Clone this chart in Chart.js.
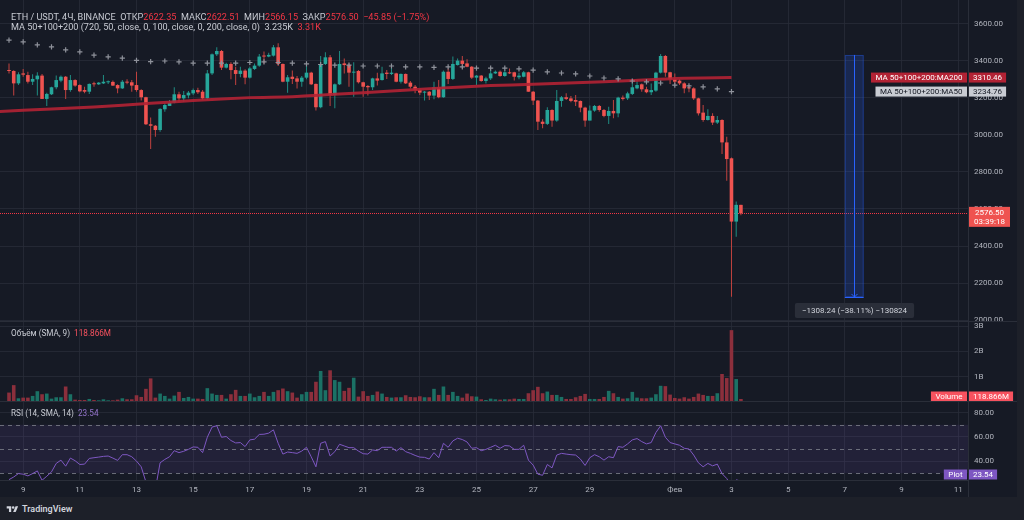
<!DOCTYPE html>
<html lang="ru">
<head>
<meta charset="utf-8">
<title>ETH / USDT, 4Ч, BINANCE</title>
<script src="https://cdn.jsdelivr.net/npm/chart.js@4.4.1/dist/chart.umd.min.js"></script>
<style>
html,body{margin:0;padding:0;}
body{width:1024px;height:520px;overflow:hidden;background:#1d2029;font-family:Roboto,"Noto Sans",Arial,sans-serif;position:relative;}
#panel{position:absolute;left:0;top:0;width:1017px;height:497px;background:#161a25;}
#panel canvas{position:absolute;left:0;}
.txt{position:absolute;white-space:pre;font-size:9.1px;line-height:10px;color:#c8cbd3;z-index:5;}
.sm{font-size:8.2px;}
.red{color:#f23645}
.vred{color:#f7525f}
.pur{color:#9575cd}
#logo{position:absolute;left:6px;top:503px;height:12px;display:flex;align-items:center;gap:3px;color:#d1d4dc;font-size:9px;font-weight:600;}
</style>
</head>
<body>
<div id="panel">
  <canvas id="cMain" width="1017" height="330" style="top:0px"></canvas>
  <canvas id="cVol" width="1017" height="88" style="top:314px"></canvas>
  <canvas id="cRsi" width="1017" height="103" style="top:394px"></canvas>
  <div class="txt" id="h1" style="left:11px;top:11.5px"></div>
  <div class="txt" id="h2" style="left:11px;top:22.3px"></div>
  <div class="txt sm" id="h3" style="left:11px;top:328.3px"></div>
  <div class="txt sm" id="h4" style="left:11px;top:408.3px"></div>
</div>
<div id="logo"><svg width="13" height="9" viewBox="0 0 36 28"><path d="M14 22H7V11H0V4h14v18z" fill="#d1d4dc"/><circle cx="20" cy="8" r="4" fill="#d1d4dc"/><path d="M28 22h-8l7.5-18h8L28 22z" fill="#d1d4dc"/></svg><span>TradingView</span></div>
<script>
// ---------- DATA (ETH/USDT 4h candles, Jan 8 12:00 .. Feb 3 08:00) ----------
const open = [
3351,3346,3279,3333,3324,3288,3301,3321,3195,3220,
3258,3294,3315,3243,3297,3270,3243,3234,3277,3274,
3279,3285,3287,3270,3252,3287,3285,3270,3243,3204,
3058,3050,3027,3139,3157,3175,3220,3198,3214,3225,
3243,3234,3198,3333,3436,3454,3364,3384,3351,3330,
3348,3310,3357,3375,3429,3424,3429,3474,3384,3288,
3315,3306,3288,3310,3337,3276,3150,3384,3420,3216,
3274,3387,3378,3337,3346,3285,3265,3258,3306,3297,
3337,3330,3333,3288,3330,3283,3261,3243,3229,3234,
3213,3258,3204,3342,3303,3378,3402,3387,3369,3310,
3321,3292,3306,3333,3342,3319,3339,3339,3312,3315,
3339,3234,3186,3072,3060,3135,3078,3184,3204,3198,
3189,3184,3148,3078,3132,3157,3135,3103,3130,3117,
3202,3198,3222,3252,3274,3247,3231,3240,3337,3427,
3339,3301,3294,3279,3258,3252,3198,3121,3081,3103,
3067,3081,2960,2874,2532,2622.35];
const high = [
3387,3350,3339,3357,3342,3328,3339,3330,3229,3261,
3321,3321,3319,3324,3301,3274,3261,3279,3288,3286,
3324,3294,3294,3274,3297,3301,3297,3342,3247,3207,
3094,3054,3144,3171,3189,3258,3234,3238,3238,3252,
3256,3243,3351,3441,3474,3459,3391,3393,3369,3369,
3355,3369,3387,3438,3451,3445,3487,3496,3387,3324,
3348,3319,3319,3387,3342,3279,3427,3447,3433,3279,
3454,3414,3387,3393,3351,3288,3270,3310,3337,3369,
3351,3369,3337,3333,3333,3292,3270,3252,3238,3238,
3288,3297,3348,3360,3424,3414,3427,3409,3373,3324,
3324,3315,3351,3348,3348,3351,3360,3342,3337,3346,
3342,3238,3189,3085,3150,3139,3243,3211,3225,3211,
3216,3186,3153,3159,3162,3162,3141,3153,3189,3207,
3213,3234,3297,3297,3279,3261,3279,3342,3438,3433,
3342,3333,3301,3285,3270,3258,3202,3162,3139,3117,
3103,3085,2991,2878,2640,2622.51];
const low = [
3333,3213,3270,3315,3279,3270,3213,3195,3157,3216,
3247,3285,3195,3234,3261,3231,3225,3222,3261,3270,
3276,3276,3265,3225,3249,3274,3234,3234,3186,3054,
2924,2991,3018,3126,3157,3171,3180,3180,3198,3216,
3222,3189,3189,3324,3427,3351,3360,3301,3270,3312,
3274,3306,3351,3369,3387,3420,3424,3373,3285,3229,
3276,3252,3261,3301,3270,3132,3144,3378,3157,3144,
3270,3333,3261,3207,3279,3207,3213,3243,3267,3294,
3303,3324,3285,3279,3276,3252,3225,3216,3186,3189,
3193,3198,3202,3276,3297,3375,3360,3366,3303,3270,
3288,3279,3297,3330,3315,3315,3330,3294,3301,3312,
3234,3162,3027,3036,3054,3045,3072,3153,3189,3177,
3157,3123,3045,3078,3126,3126,3096,3060,3090,3096,
3186,3189,3216,3247,3234,3225,3216,3234,3333,3315,
3276,3276,3270,3225,3231,3189,3105,3072,3078,3054,
3060,2897,2753,2126,2450,2566.15];
const close = [
3346,3279,3328,3326,3288,3303,3321,3195,3222,3258,
3297,3315,3243,3297,3267,3236,3234,3276,3274,3283,
3288,3288,3267,3252,3288,3283,3267,3243,3204,3058,
3050,3027,3141,3162,3175,3220,3198,3216,3229,3243,
3231,3198,3333,3436,3454,3364,3384,3351,3330,3348,
3310,3360,3375,3424,3424,3433,3474,3384,3288,3312,
3303,3288,3310,3337,3274,3150,3384,3420,3216,3274,
3384,3378,3337,3342,3285,3261,3258,3306,3294,3333,
3330,3337,3288,3330,3279,3261,3243,3229,3234,3213,
3258,3204,3342,3303,3384,3402,3384,3369,3310,3321,
3292,3306,3333,3342,3319,3339,3333,3315,3321,3339,
3234,3186,3072,3060,3135,3078,3184,3204,3195,3184,
3180,3148,3078,3132,3157,3135,3103,3130,3117,3202,
3195,3225,3258,3270,3247,3231,3243,3337,3427,3337,
3301,3288,3279,3252,3252,3198,3117,3081,3103,3067,
3081,2960,2870,2532,2622.35,2576.50];
// volume in millions
const volume = [
373,667,147,173,173,240,427,307,333,133,
187,187,613,307,93,80,80,120,80,67,
107,67,67,93,147,107,107,267,200,520,
933,173,333,240,133,253,400,160,200,133,
133,120,547,333,280,280,133,307,480,240,
240,333,187,240,400,240,400,467,533,427,
373,173,307,400,400,800,1227,467,1253,867,
800,440,560,960,213,427,240,280,413,333,
200,173,187,187,267,200,187,227,187,187,
520,280,613,280,400,240,173,333,227,213,
107,80,133,107,93,107,107,133,120,120,
347,467,600,347,413,280,280,200,120,120,
187,240,320,120,120,120,200,440,347,200,
133,147,400,173,147,147,173,307,640,627,
293,160,133,187,133,200,333,280,240,240,
347,1107,947,2840,907,118.866];
const rsi = [
24.7,26.9,29.7,29.2,27.8,29.7,31.9,24.2,27.5,31.1,
38.1,40.8,35.8,42.5,40.3,37.2,37.5,42.2,42.8,43.3,
43.9,44.2,42.5,40.6,45.3,45.3,43.6,40.0,35.3,22.8,
13,17,38.6,41.4,43.6,48.6,47,48.1,49.7,51.7,
51.4,47,59.7,68.1,69.2,59.7,60.3,57,55,55.3,
52,57.5,58.1,62,62.2,63.1,65.8,54.7,45.8,47.5,
47,46.4,48.3,51.4,43.6,35.3,54.7,56.1,44.2,47.8,
53.9,52.5,51.1,51.1,48.3,46.1,45.8,49.2,48.6,51.4,
51.4,51.4,48.3,51.1,47.8,46.4,44.7,43.3,43.1,41.7,
47,42.8,54.7,51.4,56.7,58.9,57.8,55.8,50.6,51.1,
48.6,49.7,51.4,53.1,50.6,52.8,52.5,49.7,49.7,53.1,
40.8,36.7,29.2,28.3,37.2,34.4,45,46.4,45.8,45.3,
45,41.7,36.4,42.8,45.3,43.6,40.8,43.6,42.8,52,
51.4,54.2,57.5,58.6,56.1,54.2,55.3,63.6,69.2,59.7,
55.3,54.2,53.1,50.6,50,45,38.6,35.3,38.1,36.1,
37.5,29.7,25.6,19,24.5,23.54];
// 12h MA50 (one value every 3 candles, from candle 0)
const ma50 = [
3513,3503,3487,3476,3460,3449,3432,3422,3416,3403,
3397,3400,3395,3389,3389,3389,3389,3392,3395,3392,
3389,3384,3381,3378,3378,3373,3373,3373,3368,3368,
3365,3368,3368,3362,3362,3362,3357,3351,3341,3335,
3330,3319,3308,3303,3292,3287,3281,3270,3265,3260,
3249,3234.76];
// 12h MA200 readings
const ma200Idx = [-3,9,18,30,39,51,60,69,81,90,102,111,120,132,141,153];
const ma200    = [3126,3141,3151,3171,3186,3202,3207,3220,3238,3252,3267,3274,3283,3294,3306,3310.46];
// axis ticks
const priceTicks = [2000,2200,2400,2600,2800,3000,3200,3400,3600];
const volTicks = [1000,2000,3000];
const rsiTicks = [40,60,80];
const dateTickDays = [9,11,13,15,17,19,21,23,25,27,29,32,34,36,38,40,42]; // days counted from Jan 0
const dateTickLabels = ['9','11','13','15','17','19','21','23','25','27','29','Фев','3','5','7','9','11'];
// price-range measurement drawing
const measureIdx = [177,181];
const measurePrices = [3432.7,2124.46];
const measureText = '\u22121308.24 (\u221238.11%) \u2212130824';
const timerText = '03:39:18';

// ---------- derived ----------
const N = close.length;
const isUp = close.map((c,i)=>c>=open[i]);
const dateTickIdx = dateTickDays.map(d=>(d-9)*6+3);
const X_MIN = -1.906, X_MAX = 203.09, AXIS_W = 49;
const GRID = 'rgba(42,46,57,0.75)', BORDER = '#2a2e39', TXT = '#b2b5be';
const UP='#26a69a', DN='#ef5350', UPW='#1f8d83', DNW='#c2423f';
const VUP='#1b7165', VDN='#8c2f3c';

Chart.defaults.font.family = 'Roboto, "Noto Sans", Arial, sans-serif';
Chart.defaults.font.size = 8;
Chart.defaults.color = TXT;

const m = v => (v<0?'\u2212':'+') + Math.abs(v).toFixed(2);
const chg = close[N-1]-close[N-2];
document.getElementById('h1').innerHTML =
 'ETH / USDT, 4Ч, BINANCE  ОТКР<span class="red">'+open[N-1].toFixed(2)+'</span>  МАКС<span class="red">'+high[N-1].toFixed(2)+
 '</span>  МИН<span class="red">'+low[N-1].toFixed(2)+'</span>  ЗАКР<span class="red">'+close[N-1].toFixed(2)+
 '</span>  <span class="red">'+m(chg)+' ('+m(chg/close[N-2]*100)+'%)</span>';
document.getElementById('h2').innerHTML =
 'MA 50+100+200 (720, 50, close, 0, 100, close, 0, 200, close, 0)  '+(ma50[ma50.length-1]/1000).toFixed(3)+'K  <span class="red">'+(ma200[ma200.length-1]/1000).toFixed(2)+'K</span>';
document.getElementById('h3').innerHTML = 'Объём (SMA, 9)  <span class="vred">'+volume[N-1].toFixed(3)+'M</span>';
document.getElementById('h4').innerHTML = 'RSI (14, SMA, 14)  <span class="pur">'+rsi[N-1].toFixed(2)+'</span>';

function xAxis(showLabels, h){
  return {
    type:'linear', min:X_MIN, max:X_MAX, offset:false,
    afterBuildTicks: s => { s.ticks = dateTickIdx.map(v=>({value:v})); },
    ticks:{display:showLabels, autoSkip:false, maxRotation:0, padding:5, color:TXT, callback:(v,k)=>dateTickLabels[k]},
    grid:{color:GRID, drawTicks:false, offset:false},
    border:{display:showLabels, color:BORDER},
    afterFit: s => { s.height = h; s.paddingLeft = 0; s.paddingRight = 0; }
  };
}
function yAxis(min,max,ticks,fmt){
  return {
    position:'right', min:min, max:max, beginAtZero:false,
    afterBuildTicks: s => { s.ticks = ticks.map(v=>({value:v})); },
    ticks:{color:TXT, padding:6, autoSkip:false, callback:fmt},
    grid:{color:GRID, drawTicks:false},
    border:{display:true, color:BORDER},
    afterFit: s => { s.width = AXIS_W; s.paddingTop = 0; s.paddingBottom = 0; }
  };
}
function tagBox(ctx, x1, x2, yc, h, bg, fg, lines){
  ctx.fillStyle = bg; ctx.fillRect(x1, yc-h/2, x2-x1, h);
  ctx.fillStyle = fg; ctx.font = '8px Roboto, "Noto Sans", sans-serif';
  ctx.textAlign = 'center'; ctx.textBaseline = 'middle';
  const lh = 8.5, y0 = yc - (lines.length-1)*lh/2;
  lines.forEach((t,k)=>ctx.fillText(t, (x1+x2)/2, y0 + k*lh + 0.5));
}
function labelPair(ctx, a, yc, bg, fg, label, value){
  ctx.font = '8px Roboto, "Noto Sans", sans-serif';
  const wl = ctx.measureText(label).width + 9, wv = ctx.measureText(value).width + 8;
  tagBox(ctx, a.right - 1 - wl, a.right - 1, yc, 10, bg, fg, [label]);
  tagBox(ctx, a.right + 1, a.right + 1 + wv, yc, 10, bg, fg, [value]);
}
const base = { responsive:false, animation:false, events:[], plugins:{legend:{display:false}, tooltip:{enabled:false}} };

// ---------- MAIN PANE ----------
const mainDecor = {
  id:'mainDecor',
  beforeDatasetsDraw(chart){
    const {ctx, chartArea:a, scales:{y}} = chart;
    const py = Math.round(y.getPixelForValue(close[N-1])) + 0.5;
    ctx.save(); ctx.strokeStyle = '#f23645'; ctx.lineWidth = 1; ctx.setLineDash([1,1]);
    ctx.beginPath(); ctx.moveTo(a.left, py); ctx.lineTo(a.right, py); ctx.stroke(); ctx.restore();
  },
  afterDatasetsDraw(chart){
    const {ctx, scales:{x,y}} = chart;
    const xa = x.getPixelForValue(measureIdx[0]), xb = x.getPixelForValue(measureIdx[1]);
    const ya = y.getPixelForValue(measurePrices[0]), yb = y.getPixelForValue(measurePrices[1]);
    const xm = Math.round((xa+xb)/2)+0.5;
    ctx.save();
    ctx.fillStyle = 'rgba(41,98,255,0.2)'; ctx.fillRect(xa, ya, xb-xa, yb-ya);
    ctx.strokeStyle = 'rgba(41,98,255,0.35)'; ctx.lineWidth = 1; ctx.strokeRect(xa+0.5, ya+0.5, xb-xa-1, yb-ya-1);
    ctx.strokeStyle = '#2962ff';
    ctx.beginPath(); ctx.moveTo(xm, ya); ctx.lineTo(xm, yb); ctx.stroke();
    ctx.beginPath(); ctx.moveTo(xa, Math.round(yb)+0.5); ctx.lineTo(xb, Math.round(yb)+0.5); ctx.stroke();
    ctx.beginPath(); ctx.moveTo(xm-3, yb-3); ctx.lineTo(xm, yb); ctx.lineTo(xm+3, yb-3); ctx.stroke();
    ctx.font = '8px Roboto, "Noto Sans", sans-serif';
    const w = ctx.measureText(measureText).width + 14, top = yb + 6;
    ctx.fillStyle = '#2a2e39';
    ctx.beginPath(); ctx.roundRect(xm - w/2, top, w, 15, 2); ctx.fill();
    ctx.fillStyle = '#d1d4dc'; ctx.textAlign = 'center'; ctx.textBaseline = 'middle';
    ctx.fillText(measureText, xm, top + 8);
    ctx.restore();
  },
  afterDraw(chart){
    const {ctx, chartArea:a, scales:{y}} = chart;
    ctx.save();
    labelPair(ctx, a, y.getPixelForValue(ma200[ma200.length-1]), '#b22234', '#ffffff', 'MA 50+100+200:MA200', ma200[ma200.length-1].toFixed(2));
    labelPair(ctx, a, y.getPixelForValue(ma50[ma50.length-1]), '#c9ccd3', '#131722', 'MA 50+100+200:MA50', ma50[ma50.length-1].toFixed(2));
    const pc = y.getPixelForValue(close[N-1]);
    tagBox(ctx, a.right+1, a.right+42, pc+3.5, 20, DN, '#ffffff', [close[N-1].toFixed(2), timerText]);
    ctx.restore();
  }
};
new Chart(document.getElementById('cMain'), {
  type:'bar',
  data:{ datasets:[
    { type:'line', data: ma50.map((v,k)=>({x:k*3, y:v})), showLine:false, pointStyle:'cross',
      pointRadius:2.6, pointBorderWidth:1.2, pointBorderColor:'#8f929b', pointBackgroundColor:'#8f929b', order:0 },
    { type:'line', data: ma200Idx.map((v,k)=>({x:v, y:ma200[k]})), borderColor:'rgba(178,34,52,0.9)', borderWidth:3,
      pointRadius:0, tension:0.2, order:1 },
    { data: close.map((c,i)=>({x:i, y:[open[i], c]})), backgroundColor: isUp.map(u=>u?UP:DN),
      barThickness:3.6, grouped:false, minBarLength:1, inflateAmount:0, borderWidth:0, order:2 },
    { data: close.map((c,i)=>({x:i, y:[low[i], high[i]]})), backgroundColor: isUp.map(u=>u?UPW:DNW),
      barThickness:1, grouped:false, inflateAmount:0, borderWidth:0, order:3 }
  ]},
  options:{ ...base, layout:{autoPadding:false, padding:0},
    scales:{ x: xAxis(false, 8), y: yAxis(1989.2, 3729.7, priceTicks, v=>v.toFixed(2)) } },
  plugins:[mainDecor]
});

// ---------- LOWER PANES ----------
const paneDecor = (tagLabel, tagValue, tagVal, bg, isRsi) => ({
  id:'paneDecor',
  beforeDatasetsDraw(chart){
    if (!isRsi) return;
    const {ctx, chartArea:a, scales:{y}} = chart;
    const y70 = y.getPixelForValue(70), y30 = y.getPixelForValue(30), y50 = y.getPixelForValue(50);
    ctx.save();
    ctx.fillStyle = 'rgba(126,87,194,0.12)'; ctx.fillRect(a.left, y70, a.right-a.left, y30-y70);
    ctx.strokeStyle = 'rgba(120,123,134,0.85)'; ctx.lineWidth = 1; ctx.setLineDash([4,4]);
    [y70,y50,y30].forEach(v=>{ const yy=Math.round(v)+0.5; ctx.beginPath(); ctx.moveTo(a.left,yy); ctx.lineTo(a.right,yy); ctx.stroke(); });
    ctx.restore();
  },
  afterDraw(chart){
    const {ctx, chartArea:a, scales:{y}} = chart;
    ctx.save();
    ctx.strokeStyle = BORDER; ctx.lineWidth = 1;
    ctx.beginPath(); ctx.moveTo(0, a.top-0.5); ctx.lineTo(chart.width, a.top-0.5); ctx.stroke();
    if (isRsi){ ctx.beginPath(); ctx.moveTo(a.right+0.5, a.bottom); ctx.lineTo(a.right+0.5, chart.height); ctx.stroke(); }
    const yc = Math.min(y.getPixelForValue(tagVal), a.bottom - 5.5);
    labelPair(ctx, a, yc, bg, '#ffffff', tagLabel, tagValue);
    ctx.restore();
  }
});
new Chart(document.getElementById('cVol'), {
  type:'bar',
  data:{ datasets:[{ data: volume.map((v,i)=>({x:i, y:v})), backgroundColor: isUp.map(u=>u?VUP:VDN),
    barThickness:3.6, grouped:false, inflateAmount:0, borderWidth:0 }]},
  options:{ ...base, layout:{autoPadding:false, padding:{top:8, left:0, right:0, bottom:0}},
    scales:{ x: xAxis(false, 0), y: yAxis(0, 3162, volTicks, v=>(v/1000)+'B') } },
  plugins:[paneDecor('Volume', volume[N-1].toFixed(3)+'M', volume[N-1], '#f7525f', false)]
});
new Chart(document.getElementById('cRsi'), {
  type:'line',
  data:{ datasets:[{ data: rsi.map((v,i)=>({x:i, y:v})), borderColor:'#7e57c2', borderWidth:1, pointRadius:0, tension:0 }]},
  options:{ ...base, layout:{autoPadding:false, padding:{top:8, left:0, right:0, bottom:0}},
    scales:{ x: xAxis(true, 17), y: yAxis(24.4, 88.8, rsiTicks, v=>v.toFixed(2)) } },
  plugins:[paneDecor('Plot', rsi[N-1].toFixed(2), rsi[N-1], '#7e57c2', true)]
});
</script>
</body>
</html>
